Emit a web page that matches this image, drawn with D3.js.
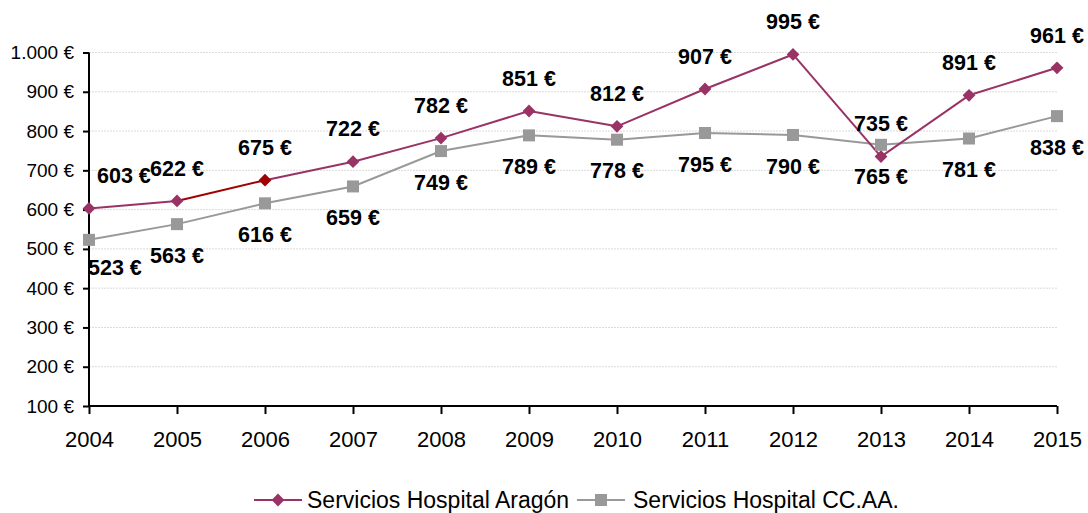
<!DOCTYPE html>
<html><head><meta charset="utf-8">
<script src="https://cdn.jsdelivr.net/npm/d3@7"></script>
<style>body{margin:0;background:#fff}svg{display:block}</style>
</head><body>
<svg id="c" width="1088" height="513"></svg>
<script>
const years = [2004,2005,2006,2007,2008,2009,2010,2011,2012,2013,2014,2015];
const aragon = [603,622,675,722,782,851,812,907,995,735,891,961];
const ccaa = [523,563,616,659,749,789,778,795,790,765,781,838];
const seriesNames = ["Servicios Hospital Aragón","Servicios Hospital CC.AA."];
const yTicks = [100,200,300,400,500,600,700,800,900,1000];

const fmtNum = d3.formatLocale({decimal:",",thousands:".",grouping:[3],currency:["","€"]}).format(",");
const euro = v => fmtNum(v) + " €";

const svg = d3.select("#c");
const x = d3.scalePoint().domain(years).range([89,1057]);
const y = d3.scaleLinear().domain([100,1000]).range([406,52.5]);
const cA = "#993366", cAdark = "#A00000", cB = "#999999";
const font = "'Liberation Sans', Arial, sans-serif";

// gridlines
svg.append("g").selectAll("line").data(yTicks.slice(1)).join("line")
  .attr("x1",89).attr("x2",1057).attr("y1",d=>y(d)).attr("y2",d=>y(d))
  .attr("stroke","#dadada").attr("stroke-width",1).attr("stroke-dasharray","2,1");

// y axis
const ya = svg.append("g").attr("transform","translate(89,0)")
  .call(d3.axisLeft(y).tickValues(yTicks).tickSize(6).tickPadding(9).tickFormat(euro));
ya.selectAll("text").attr("font-family",font).attr("font-size","19px").attr("fill","#000");
ya.selectAll("line,path").attr("stroke","#000").attr("stroke-width",2);
ya.select("path").attr("d","M0,52.5V406");

// x axis
const xa = svg.append("g").attr("transform","translate(0,406)")
  .call(d3.axisBottom(x).tickSize(8).tickPadding(17).tickFormat(d=>String(d)));
xa.selectAll("text").attr("font-family",font).attr("font-size","22px").attr("fill","#000");
xa.selectAll("line,path").attr("stroke","#000").attr("stroke-width",2);
xa.select("path").attr("d","M89,0H1057");

// lines
const line = d3.line().x(d=>x(d.year)).y(d=>y(d.v));
const dA = years.map((yr,i)=>({year:yr,v:aragon[i]}));
const dB = years.map((yr,i)=>({year:yr,v:ccaa[i]}));

svg.append("path").datum(dB).attr("d",line).attr("fill","none").attr("stroke",cB).attr("stroke-width",2);
// aragon segments (2005-2006 segment drawn dark red as in original)
const segs = d3.pairs(dA);
svg.append("g").selectAll("path").data(segs).join("path")
  .attr("d",d=>line(d)).attr("fill","none")
  .attr("stroke",d=>d[1].year===2006?cAdark:cA).attr("stroke-width",2);

// markers
svg.append("g").selectAll("rect").data(dB).join("rect")
  .attr("x",d=>x(d.year)-6).attr("y",d=>y(d.v)-6).attr("width",12).attr("height",12).attr("fill",cB);
const diamond = d3.symbol().type(d3.symbolSquare).size(82);
svg.append("g").selectAll("path").data(dA).join("path")
  .attr("d",diamond())
  .attr("transform",d=>`translate(${x(d.year)},${y(d.v)}) rotate(45)`)
  .attr("fill",d=>d.year===2006?cAdark:cA);

// labels
svg.append("g").selectAll("text").data(dA).join("text")
  .attr("x",(d,i)=>i===0?x(d.year)+8:x(d.year))
  .attr("y",d=>y(d.v)-33).attr("dy","0.36em")
  .attr("text-anchor",(d,i)=>i===0?"start":"middle")
  .attr("font-family",font).attr("font-weight","bold").attr("font-size","21.5px")
  .text(d=>euro(d.v));
svg.append("g").selectAll("text").data(dB).join("text")
  .attr("x",(d,i)=>i===0?x(d.year)-1:x(d.year))
  .attr("y",(d,i)=>y(d.v)+(i===0?27:31)).attr("dy","0.36em")
  .attr("text-anchor",(d,i)=>i===0?"start":"middle")
  .attr("font-family",font).attr("font-weight","bold").attr("font-size","21.5px")
  .text(d=>euro(d.v));

// legend
const lg = svg.append("g");
const ly = 500;
lg.append("line").attr("x1",254).attr("x2",302).attr("y1",ly).attr("y2",ly).attr("stroke",cA).attr("stroke-width",2);
lg.append("path").attr("d",diamond()).attr("transform",`translate(278,${ly}) rotate(45)`).attr("fill",cA);
lg.append("text").attr("x",307).attr("y",ly).attr("dy","0.36em").attr("font-family",font).attr("font-size","23px").text(seriesNames[0]);
lg.append("line").attr("x1",577).attr("x2",625).attr("y1",ly).attr("y2",ly).attr("stroke",cB).attr("stroke-width",2);
lg.append("rect").attr("x",601-6).attr("y",ly-6).attr("width",12).attr("height",12).attr("fill",cB);
lg.append("text").attr("x",633).attr("y",ly).attr("dy","0.36em").attr("font-family",font).attr("font-size","23px").text(seriesNames[1]);
</script>
</body></html>
